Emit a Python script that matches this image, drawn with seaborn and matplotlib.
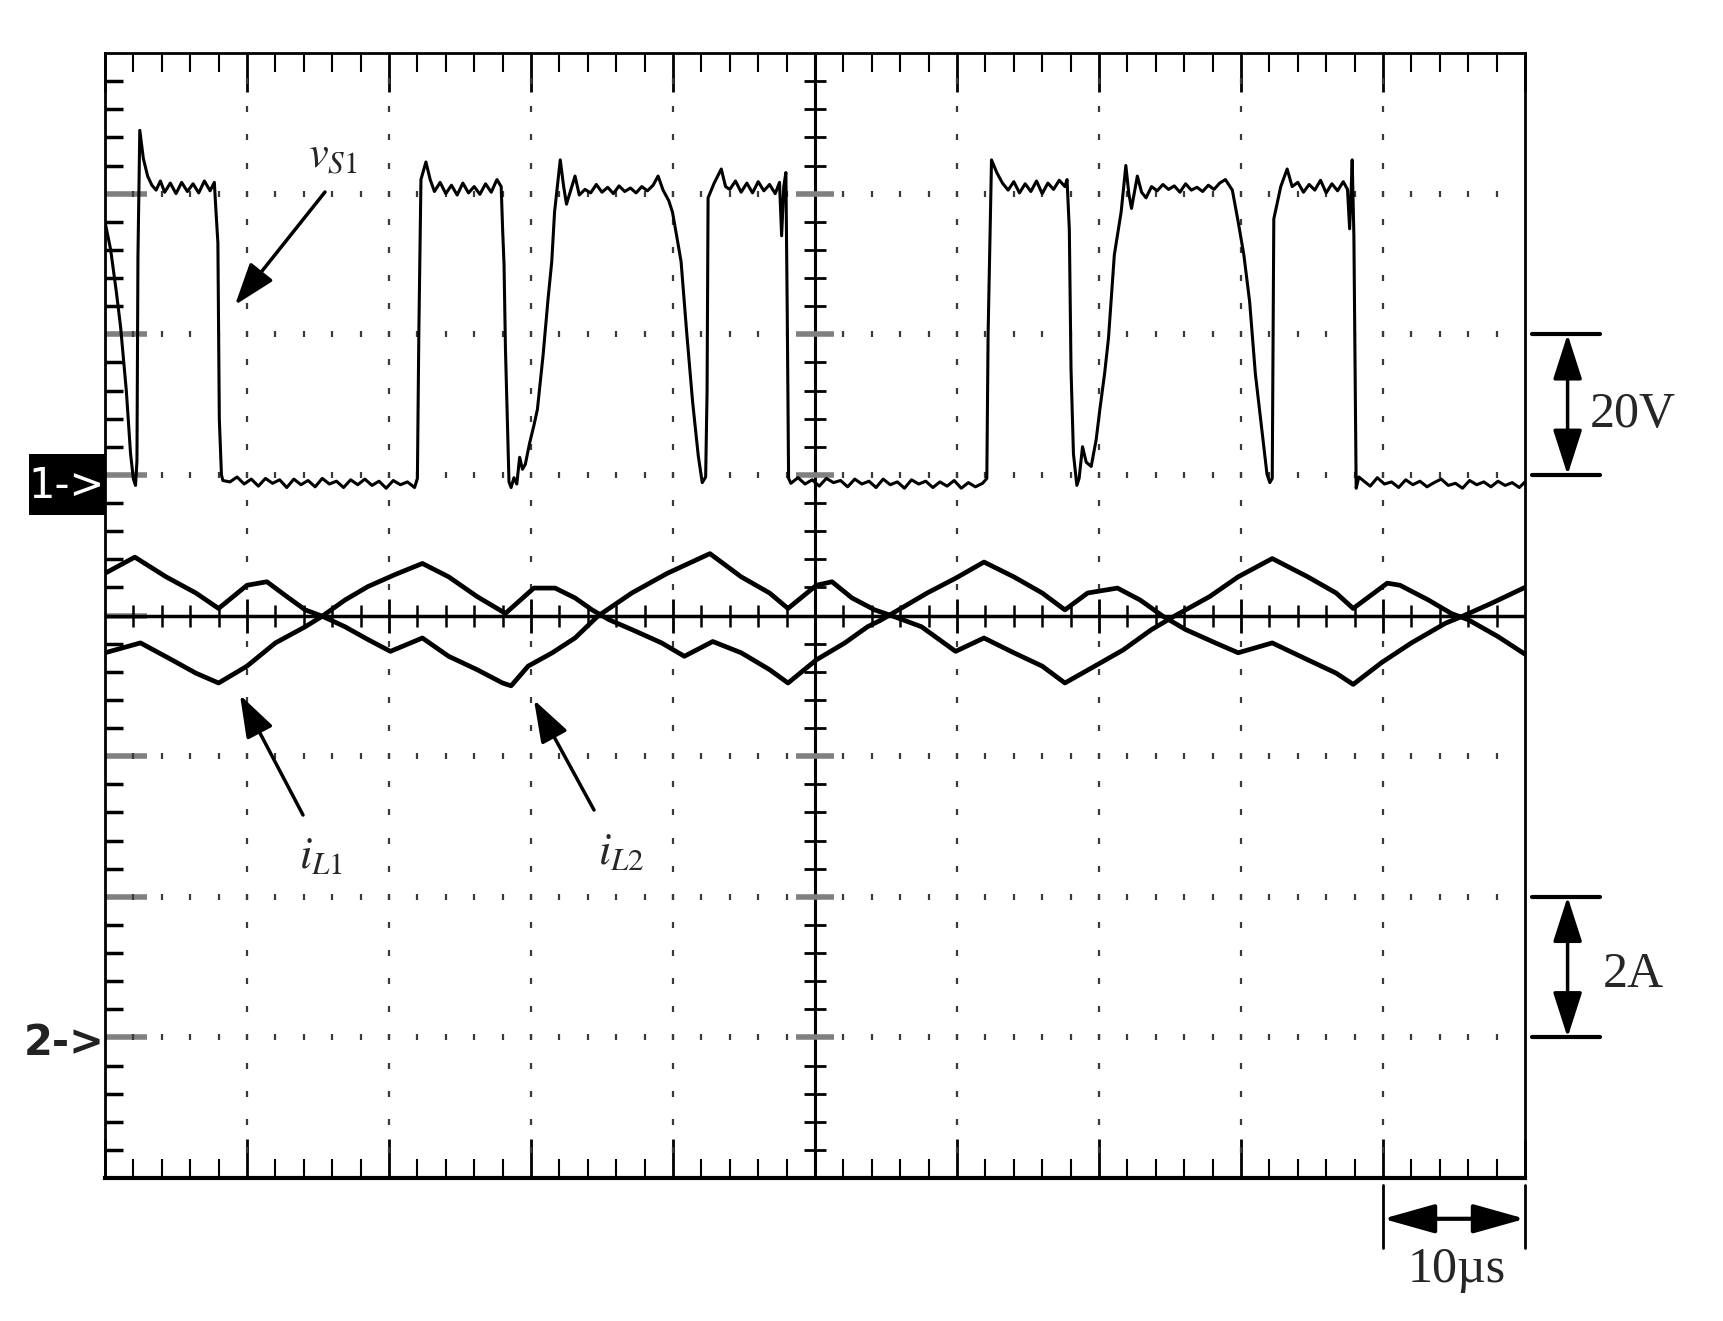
import numpy as np
import matplotlib
matplotlib.use("Agg")
import matplotlib.pyplot as plt
from matplotlib.patches import Rectangle
import seaborn as sns

# ── channel 1: switch voltage v_S1 (time in us, volts) ──
vs1_t = [0.0, 0.4, 0.8, 1.1, 1.5, 1.8, 2.0, 2.15, 2.25, 2.32, 2.45, 2.7, 3.0, 3.3,
         3.6, 3.9, 4.2, 4.6, 5.0, 5.4, 5.8, 6.2, 6.6, 7.0, 7.4, 7.7,
         7.8, 7.95, 8.05, 8.2, 8.3,
         8.8, 9.3, 9.8, 10.3, 10.8, 11.3, 11.8, 12.3, 12.8, 13.3, 13.8, 14.3, 14.8, 15.3,
         15.8, 16.3, 16.8, 17.3, 17.8, 18.3, 18.8, 19.3, 19.8, 20.3, 20.8, 21.3, 21.8,
         22.0, 22.1, 22.25, 22.6, 22.9,
         23.2, 23.6, 24.0, 24.4, 24.8, 25.2, 25.6, 26.0, 26.4, 26.8, 27.2, 27.6,
         27.9, 28.0, 28.1, 28.2, 28.45, 28.6, 28.8, 29.0, 29.2, 29.4, 29.6, 29.9,
         30.2, 30.45, 30.85, 31.2, 31.46, 31.66, 32.06, 32.3, 32.5, 32.8, 33.1, 33.4,
         33.8, 34.2, 34.6, 35.0, 35.4, 35.8, 36.2, 36.6, 37.0, 37.4, 37.8, 38.2, 38.6,
         38.95, 39.3, 39.7, 39.96, 40.3, 40.57, 40.97, 41.38, 41.78, 42.06, 42.3, 42.4,
         42.47, 42.9, 43.4, 43.7,
         44.0, 44.4, 44.8, 45.2, 45.6, 46.0, 46.4, 46.8, 47.2, 47.5,
         47.65, 47.8, 47.95, 48.05, 48.14, 48.3,
         48.8, 49.3, 49.8, 50.3, 50.8, 51.3, 51.8, 52.3, 52.8, 53.3, 53.8, 54.3, 54.8, 55.3,
         55.8, 56.3, 56.8, 57.3, 57.8, 58.3, 58.8, 59.3, 59.8, 60.3, 60.8, 61.3, 61.8,
         62.1, 62.19, 62.43, 62.8, 63.2,
         63.6, 64.0, 64.4, 64.8, 65.2, 65.6, 66.0, 66.4, 66.8, 67.2, 67.6,
         67.75, 67.91, 68.03, 68.2, 68.44, 68.6, 68.84, 69.1, 69.45, 69.8, 70.06,
         70.4, 70.67, 71.08, 71.56, 71.89, 72.1, 72.29, 72.7, 73.0, 73.31,
         73.7, 74.1, 74.5, 74.9, 75.3, 75.7, 76.1, 76.5, 76.9, 77.3, 77.7, 78.1, 78.5, 78.9,
         79.39, 79.8, 80.2, 80.61, 81.01, 81.42, 81.83, 82.03, 82.2, 82.31, 82.8, 83.25, 83.6,
         84.0, 84.4, 84.8, 85.2, 85.6, 86.0, 86.4, 86.8, 87.2, 87.5,
         87.65, 87.75, 87.83, 87.95, 88.11, 88.3,
         88.6, 89.1, 89.6, 90.1, 90.6, 91.1, 91.6, 92.1, 92.6, 93.1, 93.6, 94.1,
         94.6, 95.1, 95.6, 96.1, 96.6, 97.1, 97.6, 98.1, 98.6, 99.1, 99.6, 100.0]
vs1_v = [36, 32, 26, 21, 12, 3, -0.6, -1.5, 2, 31, 49, 45, 42.5, 41.2,
         40.5, 41.8, 40.2, 41.5, 40.0, 41.6, 40.3, 41.4, 40.1, 41.8, 40.4, 41.6,
         38, 33, 8, 0, -0.8,
         -1.0, -0.3, -1.3, -0.6, -1.6, -0.5, -1.2, -0.7, -1.8, -0.6, -1.4, -0.8, -1.7, -0.5,
         -1.3, -0.9, -1.8, -0.7, -1.4, -0.6, -1.5, -0.9, -1.9, -0.8, -1.4, -1.0, -1.8,
         -0.5, 20, 42, 44.5, 42,
         40.3, 41.6, 40.0, 41.2, 39.8, 41.5, 40.1, 41.0, 39.9, 41.4, 40.2, 42.0,
         41, 35, 30, 18, -1, -1.8, -0.4, -1.3, 2.5, 0.8, 1.5, 4.5,
         7, 9.3, 17, 25, 30.3, 37.4, 44.8, 41, 38.5, 40.5, 42.5, 39.8,
         40.6, 40.1, 41.3, 40.2, 40.9, 40.0, 41.1, 40.3, 40.8, 40.1, 41.0, 40.4, 41.2,
         42.5, 40.5, 39, 37.4, 33.5, 30.3, 20.1, 10.4, 2.7, -1.1, -0.3, 12,
         39.4, 41.5, 43.5, 41.0,
         40.6, 41.8, 40.2, 41.5, 40.1, 41.7, 40.4, 41.3, 40.0, 41.6,
         34, 41, 43, 22, -0.5, -1.2,
         -0.4, -1.3, -0.7, -1.6, -0.5, -1.1, -0.8, -1.7, -0.6, -1.3, -0.9, -1.8, -0.6, -1.4,
         -1.0, -1.9, -0.7, -1.3, -0.9, -1.8, -1.0, -1.6, -0.8, -1.9, -1.1, -1.7, -1.2,
         -0.5, 20, 44.8, 43, 41.5,
         40.5, 41.7, 40.1, 41.4, 40.3, 41.8, 40.0, 41.5, 40.6, 41.9, 41.0,
         42, 34.9, 15, 3, -1.5, -0.5, 4.0, 1.8, 1.2, 5, 9.3,
         14.5, 19.5, 31.3, 37.4, 44.0, 40, 37.9, 42.5, 40.2, 39.4,
         41.0, 40.4, 41.3, 40.6, 41.1, 40.2, 41.4, 40.5, 40.9, 40.3, 41.2, 40.6, 41.5, 42.0,
         40.5, 36, 31.3, 24.6, 14.4, 7.3, 0.1, -1.1, -0.5, 36.4, 41, 43.5, 41.0,
         41.6, 40.2, 41.3, 40.5, 41.9, 40.1, 41.4, 40.4, 41.7, 40.6,
         35, 40, 44.8, 34, -1.9, -0.3,
         -0.8, -1.6, -0.4, -1.3, -1.0, -1.8, -0.7, -1.4, -0.9, -1.7, -1.1, -0.6,
         -1.5, -1.2, -1.9, -0.8, -1.4, -1.0, -1.7, -0.9, -1.5, -1.1, -1.8, -1.0]

# ── channel 2: inductor currents (time in us, amps) ──
il1_t = [0.0, 2.5, 4.7, 6.4, 8.0, 10.0, 12.0, 14.1, 15.3, 16.9, 18.5, 20.4, 22.35, 24.2,
         26.2, 28.2, 30.2, 31.7, 33.1, 34.3, 35.5, 37.1, 39.2, 40.8, 42.8, 44.8, 46.8, 48.1,
         50.1, 52.1, 53.7, 54.6, 56.3, 57.9, 59.9, 61.9, 64.0, 66.0, 67.6, 69.2, 71.3, 72.9,
         74.5, 76.1, 78.2, 79.8, 82.2, 84.7, 86.7, 87.9, 89.9, 92.0, 94.4, 95.6, 97.6, 100.0]
il1_a = [5.47, 5.61, 5.37, 5.18, 5.04, 5.28, 5.61, 5.84, 5.99, 6.22, 6.41, 6.58, 6.74, 6.55,
         6.27, 6.03, 6.39, 6.39, 6.25, 6.08, 5.94, 5.80, 5.61, 5.42, 5.63, 5.47, 5.23, 5.04,
         5.37, 5.61, 5.84, 5.93, 6.13, 6.32, 6.53, 6.76, 6.55, 6.32, 6.08, 6.32, 6.39, 6.22,
         5.99, 5.80, 5.61, 5.47, 5.61, 5.37, 5.18, 5.02, 5.33, 5.61, 5.89, 5.99, 6.17, 6.40]
il2_t = [0.0, 2.1, 4.3, 6.4, 8.0, 10.0, 11.4, 12.8, 14.1, 15.3, 16.9, 18.5, 20.1, 22.35,
         24.2, 26.2, 28.0, 28.6, 29.8, 31.5, 33.1, 34.7, 37.1, 39.6, 42.6, 44.8, 46.8, 48.1,
         50.1, 51.2, 52.6, 54.2, 55.5, 57.5, 59.9, 61.9, 64.0, 66.0, 67.6, 69.7, 71.7, 73.7,
         75.3, 77.8, 79.8, 82.2, 84.7, 86.7, 87.9, 90.3, 91.2, 93.2, 94.8, 96.0, 98.1, 100.0]
il2_a = [6.60, 6.83, 6.55, 6.32, 6.10, 6.43, 6.48, 6.27, 6.08, 5.99, 5.84, 5.66, 5.49, 5.68,
         5.42, 5.23, 5.04, 5.00, 5.28, 5.47, 5.68, 5.99, 6.32, 6.60, 6.88, 6.55, 6.32, 6.10,
         6.43, 6.48, 6.25, 6.08, 5.99, 5.84, 5.49, 5.68, 5.47, 5.28, 5.04, 5.28, 5.51, 5.80,
         5.99, 6.27, 6.55, 6.81, 6.55, 6.32, 6.10, 6.46, 6.43, 6.22, 6.03, 5.94, 5.70, 5.45]

assert len(vs1_t) == len(vs1_v)
assert len(il1_t) == len(il1_a) and len(il2_t) == len(il2_a)

# scope settings
US_PER_DIV = 10
V_PER_DIV = 20
A_PER_DIV = 2
CH1_ZERO = 1     # ground marker of channel 1, in divisions from centre
CH2_ZERO = -3

W, H = 1724, 1321
MARK_FONT = ["Liberation Sans Narrow", "DejaVu Sans Condensed", "DejaVu Sans"]


def fig_xy(px, py):
    # pixel position (top-left origin) -> figure fraction
    return px / W, 1 - py / H


def draw_screen(ax):
    ax.set_xlim(0, 10 * US_PER_DIV)
    ax.set_ylim(-4, 4)
    ax.set_xticks(np.arange(0, 101, US_PER_DIV))
    ax.set_xticks(np.arange(0, 101, US_PER_DIV / 5), minor=True)
    ax.set_yticks(np.arange(-3, 4, 1))
    ax.set_yticks(np.round(np.arange(-3.8, 3.81, 0.2), 1), minor=True)
    ax.tick_params(which="both", direction="in", top=True, right=True,
                   bottom=True, left=True, labelbottom=False, labelleft=False)
    ax.tick_params(axis="x", which="major", length=28, width=2, color="black")
    ax.tick_params(axis="x", which="minor", length=14, width=1.5, color="black")
    ax.tick_params(axis="y", which="major", length=30, width=4, color="#808080")
    ax.tick_params(axis="y", which="minor", length=13, width=2.5, color="black")
    for sp in ax.spines.values():
        sp.set_visible(True)
        sp.set_color("black")
        sp.set_linewidth(2)
    ax.spines["bottom"].set_linewidth(3)

    # centre cross with its small ticks
    ax.axvline(50, color="black", lw=2.2)
    ax.axhline(0, color="black", lw=2.5)
    fine_y = [y for y in np.round(np.arange(-3.8, 4, 0.2), 1) if abs(y - round(y)) > 1e-6]
    rows = [-3, -2, -1, 1, 2, 3]
    ax.plot([50] * len(fine_y), fine_y, ls="none", marker="_", ms=16, mew=2, color="black")
    ax.plot([50] * len(rows), rows, ls="none", marker="_", ms=28, mew=4, color="#808080")
    fine_x = [x for x in np.arange(2, 100, 2) if x % 10]
    cols = [10, 20, 30, 40, 60, 70, 80, 90]
    ax.plot(fine_x, [0] * len(fine_x), ls="none", marker="|", ms=16, mew=1.8, color="black")
    ax.plot(cols, [0] * len(cols), ls="none", marker="|", ms=24, mew=2, color="black")

    # dotted graticule
    dot_x = [x for x in np.arange(2, 100, 2) if x != 50]
    for y in rows:
        ax.plot(dot_x, [y] * len(dot_x), ls="none", marker="|", ms=4, mew=1.6, color="#3a3a3a")
    dot_y = [y for y in np.round(np.arange(-3.8, 4, 0.2), 1) if y != 0]
    for x in cols:
        ax.plot([x] * len(dot_y), dot_y, ls="none", marker="|", ms=4, mew=1.6, color="#3a3a3a")


def scale_bar_v(ax, y0, y1, label, y_text):
    for y in (y0, y1):
        ax.plot([100.5, 105.3], [y, y], color="black", lw=3, clip_on=False)
    ax.annotate("", xy=(103.0, y1), xytext=(103.0, y0), annotation_clip=False,
                arrowprops=dict(arrowstyle="<|-|>,head_length=1.4,head_width=0.45",
                                mutation_scale=20, color="black", lw=2.5,
                                shrinkA=0, shrinkB=0))
    ax.text(107.6, y_text, label, fontsize=36, ha="center", va="baseline")


def main():
    sns.set_style("white")
    plt.rcParams["font.family"] = ["Liberation Serif", "DejaVu Serif"]
    plt.rcParams["mathtext.fontset"] = "stix"

    fig = plt.figure(figsize=(W / 100, H / 100), dpi=100)
    ax = fig.add_axes([105 / W, 1 - 1178 / H, 1420 / W, 1125 / H])
    draw_screen(ax)

    # channel axes share the screen, each with its own volts/amps per division
    ax_v = ax.twinx()
    ax_i = ax.twinx()
    sns.lineplot(x=vs1_t, y=vs1_v, ax=ax_v, color="black", linewidth=2.2,
                 estimator=None, sort=False)
    sns.lineplot(x=il1_t, y=il1_a, ax=ax_i, color="black", linewidth=3.4,
                 estimator=None, sort=False)
    sns.lineplot(x=il2_t, y=il2_a, ax=ax_i, color="black", linewidth=3.4,
                 estimator=None, sort=False)
    ax_v.set_ylim((-4 - CH1_ZERO) * V_PER_DIV, (4 - CH1_ZERO) * V_PER_DIV)
    ax_i.set_ylim((-4 - CH2_ZERO) * A_PER_DIV, (4 - CH2_ZERO) * A_PER_DIV)
    for a in (ax_v, ax_i):
        a.set_axis_off()
    ax.set_xlim(0, 10 * US_PER_DIV)

    # channel markers
    fig.add_artist(Rectangle(fig_xy(29, 515), 76 / W, 61 / H, transform=fig.transFigure,
                             facecolor="black", edgecolor="none"))
    fig.text(*fig_xy(67, 486), "1->", color="white", fontsize=30,
             family=MARK_FONT, ha="center", va="center")
    fig.text(*fig_xy(64, 1043), "2->", color="#222222", fontsize=30, fontweight="bold",
             family=MARK_FONT, ha="center", va="center")

    # trace labels and pointers
    arrow_kw = dict(arrowstyle="-|>,head_length=1.3,head_width=0.45", mutation_scale=20,
                    color="black", lw=2.5, shrinkA=0, shrinkB=0)
    fig.text(*fig_xy(308, 168), r"$v_{S1}$", fontsize=32, ha="left", va="baseline")
    ax.annotate("", xy=fig_xy(235, 305), xytext=fig_xy(325, 192), xycoords="figure fraction",
                textcoords="figure fraction", arrowprops=arrow_kw)
    fig.text(*fig_xy(299, 868), r"$i_{L1}$", fontsize=32, ha="left", va="baseline")
    ax.annotate("", xy=fig_xy(240, 695), xytext=fig_xy(303, 815), xycoords="figure fraction",
                textcoords="figure fraction", arrowprops=arrow_kw)
    fig.text(*fig_xy(598, 864), r"$i_{L2}$", fontsize=32, ha="left", va="baseline")
    ax.annotate("", xy=fig_xy(534, 700), xytext=fig_xy(594, 810), xycoords="figure fraction",
                textcoords="figure fraction", arrowprops=arrow_kw)

    # scale indicators
    scale_bar_v(ax, 1, 2, "20V", 1.34)
    scale_bar_v(ax, -3, -2, "2A", -2.64)
    for x in (90, 100):
        ax.plot([x, x], [-4.05, -4.5], color="black", lw=2, clip_on=False)
    ax.annotate("", xy=(100, -4.29), xytext=(90, -4.29), annotation_clip=False,
                arrowprops=dict(arrowstyle="<|-|>,head_length=1.6,head_width=0.45",
                                mutation_scale=20, color="black", lw=3,
                                shrinkA=0, shrinkB=0))
    ax.text(95.2, -4.74, "10µs", fontsize=36, ha="center", va="baseline")

    fig.savefig("out.png", dpi=100)
    plt.close(fig)


if __name__ == "__main__":
    main()
